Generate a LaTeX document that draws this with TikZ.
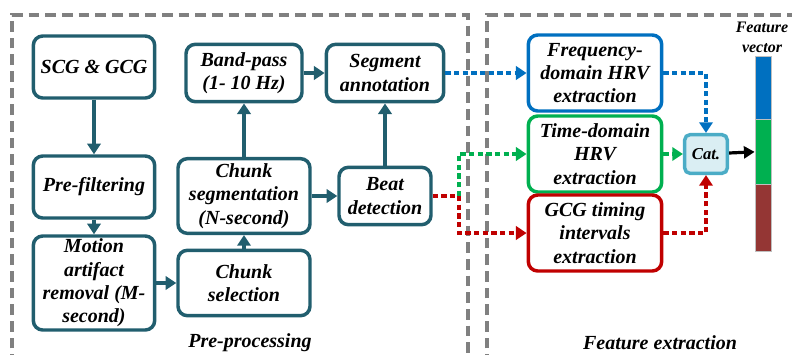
\documentclass[tikz,border=0pt]{standalone}
\usepackage{fontspec}
\setmainfont{Liberation Serif}
\usetikzlibrary{arrows.meta}

\definecolor{tealb}{HTML}{215E6E}
\definecolor{fblue}{HTML}{0070C0}
\definecolor{fgreen}{HTML}{00B050}
\definecolor{fred}{HTML}{C00000}
\definecolor{fbrown}{HTML}{943634}
\definecolor{catb}{HTML}{4BACC6}
\definecolor{catf}{HTML}{DAEEF3}
\definecolor{framegray}{HTML}{808080}

\begin{document}
\begin{tikzpicture}[x=0.75pt,y=-0.75pt,
    font=\fontsize{15}{17.5}\selectfont\bfseries\itshape,
    blk/.style={draw=tealb,line width=2.6pt,rounded corners=7pt,align=center,inner sep=1pt},
    fbox/.style={draw=#1,line width=2.6pt,rounded corners=7pt,align=center,inner sep=1pt,
        minimum width=100pt,minimum height=57pt},
    arr/.style={draw=tealb,line width=2.4pt,-{Triangle[length=8pt,width=10pt]}},
    dline/.style={line width=3pt,dash pattern=on 4pt off 2.5pt},
    dasharr/.style={dline,-{Triangle[length=8pt,width=10pt]}},
    frame/.style={draw=framegray,line width=2.8pt,dash pattern=on 8pt off 4.5pt}]
    \useasboundingbox (0,0) rectangle (792,354);

    % frames
    \draw[frame] (12,365) -- (12,15) -- (468,15) -- (468,365);
    \draw[frame] (487,365) -- (487,15) -- (800,15);
    \node (pplab) at (250,343) {Pre-processing};
    \node (felab) at (660,343) {Feature extraction};

    % pre-processing
    \node[blk,minimum width=91pt,minimum height=46.5pt] (scg) at (94,67) {SCG \& GCG};
    \node[blk,minimum width=91pt,minimum height=46.5pt] (pre) at (94,187) {Pre-filtering};
    \node[blk,minimum width=91pt,minimum height=70.5pt,inner ysep=0pt] (mar) at (94,283) {Motion\\artifact\\removal (M-\\second)};
    \node[blk,minimum width=87pt,minimum height=43pt] (bp) at (244,73) {Band-pass\\(1- 10 Hz)};
    \node[blk,minimum width=88pt,minimum height=43pt] (seg) at (385,73) {Segment\\annotation};
    \node[blk,minimum width=99pt,minimum height=56pt] (cs) at (244,196) {Chunk\\segmentation\\(N-second)};
    \node[blk,minimum width=69pt,minimum height=43pt] (beat) at (385,196) {Beat\\detection};
    \node[blk,minimum width=99pt,minimum height=49pt] (csel) at (244,283) {Chunk\\selection};

    \draw[arr] (scg) -- (pre);
    \draw[arr] (pre) -- (mar);
    \draw[arr] (mar) -- (csel);
    \draw[arr] (csel) -- (cs);
    \draw[arr] (cs) -- (bp);
    \draw[arr] (bp) -- (seg);
    \draw[arr] (cs) -- (beat);
    \draw[arr] (beat) -- (seg);

    % feature extraction
    \node[fbox=fblue] (freq) at (595,73) {Frequency-\\domain HRV\\extraction};
    \node[fbox=fgreen] (time) at (595,154) {Time-domain\\HRV\\extraction};
    \node[fbox=fred] (gcg) at (595,233) {GCG timing\\intervals\\extraction};
    \node[draw=catb,fill=catf,line width=2.6pt,rounded corners=4pt,minimum width=32pt,
        minimum height=29pt,inner sep=0pt,font=\fontsize{12.5}{14}\selectfont\bfseries\itshape] (cat) at (706,154) {Cat.};

    % feature vector
    \node[fill=fblue,draw=gray!50,line width=0.6pt,minimum width=12pt,minimum height=47.25pt,inner sep=0pt] (fvb) at (763,87.5) {};
    \node[fill=fgreen,draw=gray!50,line width=0.6pt,minimum width=12pt,minimum height=48.75pt,inner sep=0pt] (fvg) at (763,151.5) {};
    \node[fill=fbrown,draw=gray!50,line width=0.6pt,minimum width=12pt,minimum height=50.25pt,inner sep=0pt] (fvr) at (763,217.5) {};
    \node[align=center,font=\fontsize{12}{15}\selectfont\bfseries\itshape] (fvlab) at (762,37) {Feature\\vector};

    \coordinate (split) at (459,196);
    \draw[dasharr,fblue] (seg) -- (freq);
    \draw[dline,fred] (beat) -- (split);
    \draw[dasharr,fred] (split) |- (gcg);
    \draw[dasharr,fgreen] (split) |- (time);
    \draw[dasharr,fblue] (freq) -| (cat);
    \draw[dasharr,fgreen] (time) -- (cat);
    \draw[dasharr,fred] (gcg) -| (cat);
    \draw[line width=2.4pt,-{Triangle[length=8pt,width=9pt]}] (cat) -- (fvg);
\end{tikzpicture}
\end{document}
